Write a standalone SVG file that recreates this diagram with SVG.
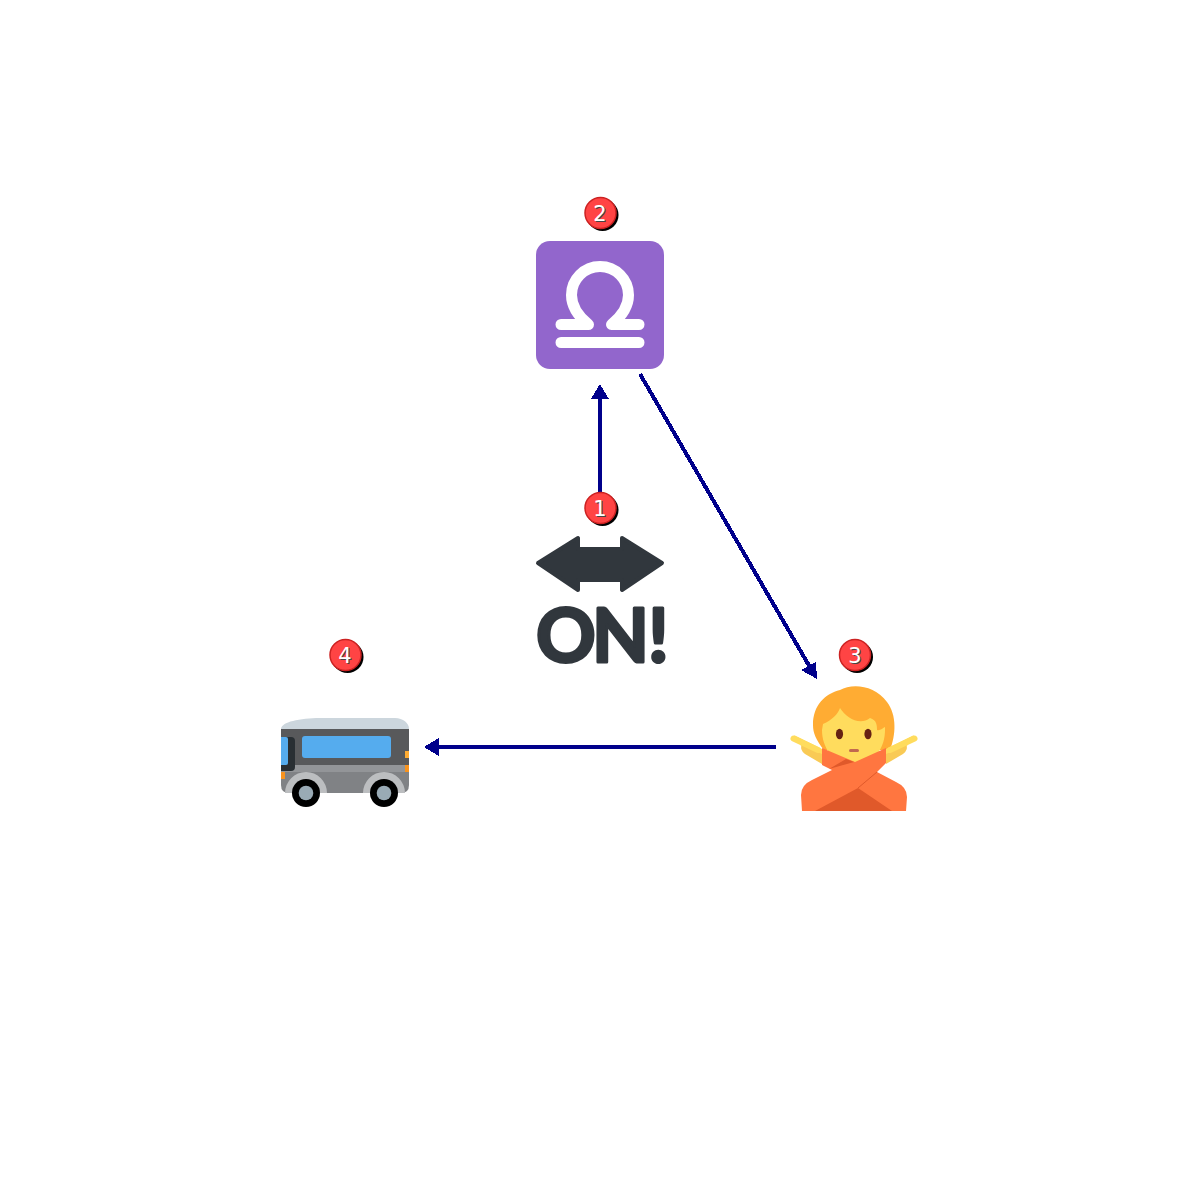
<svg xmlns="http://www.w3.org/2000/svg" width="1200" height="1200" viewBox="0 0 1200 1200">
<style>
.badge-shadow{fill:#000}
.badge{fill:#f44;stroke:#c22;stroke-width:1.500}
.num{font-family:"DejaVu Sans",sans-serif;font-size:21px;text-anchor:middle}
.num-w{fill:#fff}
.num-s{fill:#444}
.conn{stroke:#00008b;stroke-width:4;fill:none;shape-rendering:crispEdges}
.head{fill:#00008b;shape-rendering:crispEdges}
</style>
<rect width="1200" height="1200" fill="#fff"/>
<g id="connectors">
<path class="conn" d="M600 495V396"/><path class="head" d="M600 384L609 399H591Z"/>
<path class="conn" d="M640 374L811 669"/><path class="head" d="M817 679L801 670L816 662Z"/>
<path class="conn" d="M776 747H436"/><path class="head" d="M424 747L439 738V756Z"/>
</g>
<g id="node-1">
<path fill="#31373d" stroke="#31373d" stroke-width="4" stroke-linejoin="round" d="M538 563L578 538V549H622V538L662 563L622 590V580H578V590Z"/>
<text y="661.500" x="536 592 648" font-family="Lato,sans-serif" font-weight="700" font-size="74" fill="#31373d" stroke="#31373d" stroke-width="3" stroke-linejoin="round">ON!</text>
<circle class="badge-shadow" cx="602.500" cy="510" r="16"/><circle class="badge" cx="600.500" cy="508" r="15.500"/>
<text class="num num-s" x="601" y="516.500">1</text><text class="num num-w" x="600" y="515.500">1</text>
</g>
<g id="node-2">
<rect x="536" y="241" width="128" height="128" rx="14" fill="#9266cc"/>
<path fill="none" stroke="#fff" stroke-width="11" stroke-linecap="round" stroke-linejoin="round" d="M561 324.500H588.500C578 316 571.500 306 571.500 295A28.500 28.500 0 0 1 628.500 295C628.500 306 622 316 611.500 324.500H639M561 342.500H639"/>
<circle class="badge-shadow" cx="602.500" cy="215" r="16"/><circle class="badge" cx="600.500" cy="213" r="15.500"/>
<text class="num num-s" x="601" y="221.500">2</text><text class="num num-w" x="600" y="220.500">2</text>
</g>
<g id="node-3">
<path fill="#ffac33" d="M813 725C813 705 825 694 840 690C852 683 875 685 887 702C897 715 896 735 890 750H824C816 740 813 733 813 725Z"/>
<path fill="#ffdc5d" d="M822 730L823 724C832 720 838 714 840 708C846 718 860 726 870 718C877 720 877 726 877 730C880 731 883 728 885 727C886 752 870 765 854 765C838 765 822 752 822 730Z"/>
<ellipse cx="839.500" cy="734" rx="3.600" ry="5.300" fill="#662113"/>
<ellipse cx="868" cy="734" rx="3.600" ry="5.300" fill="#662113"/>
<rect x="849" y="749" width="10" height="3" rx="1.500" fill="#c1694f"/>
<path fill="#ffdc5d" d="M794 735L822 749V762L805 752ZM914 735L886 749V762L903 752Z"/>
<path fill="#f9ca55" d="M802 745L822 754V764L805 754Q799 749 802 745ZM906 745L886 754V764L903 754Q909 749 906 745Z"/>
<path fill="none" stroke="#ffdc5d" stroke-width="6" stroke-linecap="round" d="M793.500 738.500L818 750M914.500 738.500L890 750"/>
<path fill="#ff7640" d="M822 748L855 762L886 748V763L877 772L896 782Q907 787 907 797L906 811H802L801 795Q801 785 812 780L832 770L822 765Z"/>
<path fill="#e0592a" d="M815 811L858 788L892 811Z"/>
<path fill="none" stroke="#e0592a" stroke-width="1" d="M858 788L877 772"/>
<path fill="#e0592a" d="M829 769L846 759L854 762Z"/>
<circle class="badge-shadow" cx="857" cy="657" r="16"/><circle class="badge" cx="855" cy="655" r="15.500"/>
<text class="num num-s" x="856" y="663.500">3</text><text class="num num-w" x="855" y="662.500">3</text>
</g>
<g id="node-4">
<path fill="#ccd6dd" d="M281 729C281 722 300 718 320 718H395C403 718 409 723 409 729Z"/>
<rect x="281" y="729" width="128" height="36" fill="#58595b"/>
<rect x="281" y="765" width="128" height="7" fill="#939598"/>
<path fill="#808285" d="M281 772H409V785Q409 793 401 793H289Q281 793 281 785Z"/>
<rect x="302" y="736" width="89" height="22" rx="3" fill="#55acee"/>
<path fill="#292f33" d="M281 737H291Q295 737 295 741V767Q295 771 291 771H281Z"/>
<path fill="#55acee" d="M281 737H286Q288 737 288 739V763Q288 765 286 765H281Z"/>
<rect x="405" y="751" width="4" height="7" fill="#ffac33"/>
<rect x="405" y="765" width="4" height="7" fill="#f7931e"/>
<rect x="281" y="772" width="4" height="7" fill="#f7931e"/>
<path fill="#bcbec0" d="M285 793A21 21 0 0 1 327 793ZM363 793A21 21 0 0 1 405 793Z"/>
<circle cx="306" cy="793" r="14" fill="#000"/><circle cx="306" cy="793" r="7.300" fill="#99aab5"/>
<circle cx="384" cy="793" r="14" fill="#000"/><circle cx="384" cy="793" r="7.300" fill="#99aab5"/>
<circle class="badge-shadow" cx="347.500" cy="657" r="16"/><circle class="badge" cx="345.500" cy="655" r="15.500"/>
<text class="num num-s" x="346" y="663.500">4</text><text class="num num-w" x="345" y="662.500">4</text>
</g>
</svg>
